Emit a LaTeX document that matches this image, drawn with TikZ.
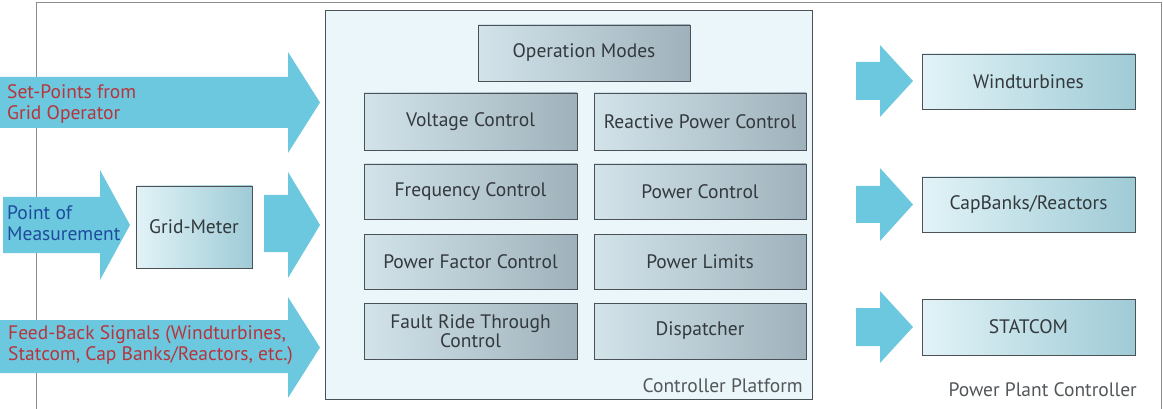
\documentclass[tikz,border=0pt]{standalone}
\usepackage{fontspec}
\setmainfont{PT Sans}
\usetikzlibrary{positioning}
\definecolor{arrowc}{HTML}{6CC8DE}
\definecolor{platfill}{HTML}{EAF6FA}
\definecolor{graya}{HTML}{D2E3EA}
\definecolor{grayb}{HTML}{9FB2BB}
\definecolor{cyana}{HTML}{E2F3F7}
\definecolor{cyanb}{HTML}{9FCBD6}
\definecolor{txtred}{HTML}{B8343C}
\definecolor{txtblue}{HTML}{1E4C9C}
\definecolor{txtdark}{HTML}{33393D}
\definecolor{framec}{HTML}{8C8C8C}
\definecolor{boxline}{HTML}{4A5257}
\begin{document}
\begin{tikzpicture}[x=1pt,y=-1pt,
  font=\fontsize{19.5}{20}\selectfont,
  modebox/.style={draw=boxline,line width=0.9pt,left color=graya,right color=grayb,
    text=txtdark,align=center,inner sep=0pt},
  devbox/.style={draw=boxline,line width=0.9pt,left color=cyana,right color=cyanb,
    text=txtdark,align=center,inner sep=0pt},
  bigarrow/.style={fill=arrowc},
  lbl/.style={align=left,anchor=west,inner sep=0pt,font=\fontsize{19.5}{20.5}\selectfont}
]
\useasboundingbox (0,0) rectangle (1163,409);
% outer frame
\draw[framec,line width=0.8pt] (36,409) -- (36,2) -- (1161.5,2) -- (1161.5,409);
% controller platform
\node[draw=boxline,line width=0.9pt,fill=platfill,minimum width=487pt,minimum height=389pt,inner sep=0pt] (plat) at (568.5,204.5) {};
\node[anchor=east,text=txtdark!85,inner sep=0pt] (platlbl) at (803,386) {Controller Platform};
\node[anchor=east,text=txtdark!85,inner sep=0pt] (ppclbl) at (1137,390) {Power Plant Controller};
% inner boxes
\node[modebox,minimum width=212pt,minimum height=56pt] (om) at (584,53) {Operation Modes};
\node[modebox,minimum width=213pt,minimum height=57pt] (vc) at (470.5,121.5) {Voltage Control};
\node[modebox,minimum width=212pt,minimum height=57pt] (rpc) at (700,121.5) {Reactive Power Control};
\node[modebox,minimum width=213pt,minimum height=55pt] (fc) at (470.5,191.5) {Frequency Control};
\node[modebox,minimum width=212pt,minimum height=55pt] (pc) at (700,191.5) {Power Control};
\node[modebox,minimum width=213pt,minimum height=55pt] (pfc) at (470.5,261.5) {Power Factor Control};
\node[modebox,minimum width=212pt,minimum height=55pt] (pl) at (700,261.5) {Power Limits};
\node[modebox,minimum width=213pt,minimum height=56pt,font=\fontsize{19.5}{19}\selectfont] (frt) at (470.5,331) {Fault Ride Through\\Control};
\node[modebox,minimum width=212pt,minimum height=56pt] (disp) at (700,331) {Dispatcher};
% right devices
\node[devbox,minimum width=213pt,minimum height=55pt] (wt) at (1028.5,81.5) {Windturbines};
\node[devbox,minimum width=213pt,minimum height=55pt] (cb) at (1028.5,204.5) {CapBanks/Reactors};
\node[devbox,minimum width=213pt,minimum height=56pt] (st) at (1028.5,327) {STATCOM};
% grid meter
\node[devbox,minimum width=116pt,minimum height=82pt] (gm) at (194,227) {Grid-Meter};
% left arrows
\fill[bigarrow] (0,77) -- (288,77) -- (288,52) -- (320,102.5) -- (288,153) -- (288,128) -- (0,128) -- cycle;
\fill[bigarrow] (3,197) -- (100,197) -- (100,170) -- (130,225) -- (100,280) -- (100,253) -- (3,253) -- cycle;
\fill[bigarrow] (264,195) -- (288,195) -- (288,172) -- (320,225) -- (288,278) -- (288,252) -- (264,252) -- cycle;
\fill[bigarrow] (0,320) -- (288,320) -- (288,297) -- (320,347.5) -- (288,398) -- (288,373) -- (0,373) -- cycle;
% right arrows
\fill[bigarrow] (856,62) -- (880,62) -- (880,45) -- (913,81) -- (880,117) -- (880,100) -- (856,100) -- cycle;
\fill[bigarrow] (856,186) -- (880,186) -- (880,168) -- (913,204.5) -- (880,241) -- (880,223) -- (856,223) -- cycle;
\fill[bigarrow] (856,308) -- (880,308) -- (880,291) -- (913,327) -- (880,363) -- (880,346) -- (856,346) -- cycle;
% labels
\node[lbl,text=txtred] (sp) at (7,104) {Set-Points from\\Grid Operator};
\node[lbl,text=txtblue] (pm) at (7,223) {Point of\\Measurement};
\node[lbl,text=txtred] (fb) at (8,345) {Feed-Back Signals (Windturbines,\\Statcom, Cap Banks/Reactors, etc.)};
\end{tikzpicture}
\end{document}
